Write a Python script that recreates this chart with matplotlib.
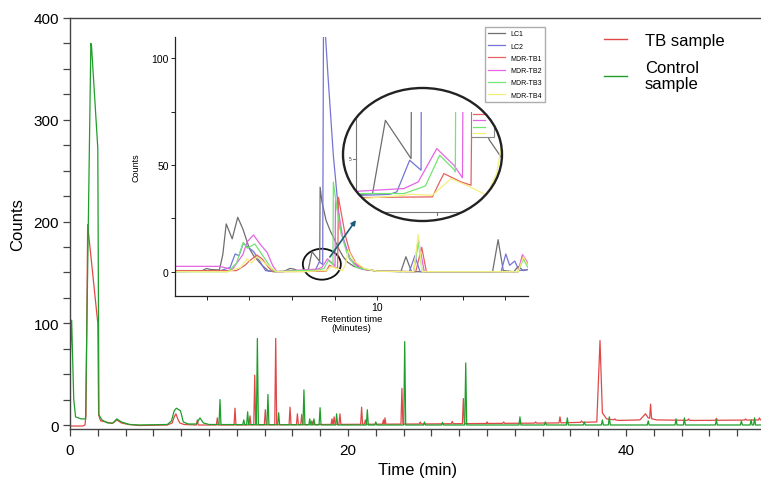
import matplotlib
matplotlib.use("Agg")
import matplotlib.pyplot as plt
import numpy as np
from matplotlib.patches import Ellipse, Rectangle
from matplotlib.lines import Line2D
from matplotlib.ticker import MultipleLocator, FixedLocator

plt.rcParams['font.family'] = ['Liberation Sans', 'DejaVu Sans']

# ---------------- main chromatogram data (time in min, counts) ----------------
tb_base_t = [0.0, 0.9, 1.08, 1.15, 1.27, 2.0, 2.06, 2.2, 2.6, 3.0, 3.2, 3.36, 3.7, 4.2, 5.0,
             7.0, 7.35, 7.5, 7.62, 7.75, 7.9, 8.2, 9.0, 12.0, 18.0, 25.0, 30.0, 35.0, 37.9,
             38.13, 38.3, 38.6, 39.5, 41.0, 41.4, 41.6, 42.2, 45.0, 50.0]
tb_base_v = [-1, -1, 0, 10, 197, 100, 10, 4, 3, 1.5, 3, 5, 2, 0.5, -0.5,
             0, 2, 8, 11, 6, 2, 0.5, 0, 0, 0.5, 1, 1.5, 2, 3,
             83, 12, 6, 4.5, 5, 11, 7, 5, 4.5, 5]
tb_peak_t = [9.16, 10.6, 11.87, 12.95, 13.29, 14.05, 14.8, 15.83, 16.36, 16.67, 17.4, 18.85,
             19.0, 19.42, 20.98, 21.25, 22.55, 22.66, 23.88, 25.2, 27.5, 28.3, 30.0, 31.2,
             33.5, 35.25, 36.8, 39.2, 41.77, 44.5, 46.5, 48.6, 49.6]
tb_peak_h = [5, 7, 16.5, 9, 49, 15, 85, 17.5, 11, 10.5, 4, 6,
             8, 11, 17.5, 5, 5, 7, 36, 3, 3.5, 26, 3, 3,
             3, 8, 4, 6, 20.5, 6, 6.5, 6, 7]

ctl_base_t = [0.0, 0.04, 0.12, 0.2, 0.27, 0.4, 0.8, 1.12, 1.5, 1.55, 2.0, 2.08, 2.3, 2.7,
              3.1, 3.36, 3.7, 4.3, 5.0, 7.0, 7.3, 7.5, 7.65, 7.95, 8.15, 8.5, 9.1, 9.35,
              9.6, 10.0, 20.0, 30.0, 40.0, 50.0]
ctl_base_v = [60, 75, 103, 60, 25, 8, 6, 6, 375, 372, 272, 10, 5, 2,
              2, 6, 3, 0.5, 0, 0.5, 4, 14, 16.5, 14, 3, 1, 1, 7,
              2, 0.5, 0, 0, 0, 0]
ctl_peak_t = [10.79, 12.5, 12.78, 13.48, 14.24, 15.01, 16.83, 17.25, 17.55, 17.99, 19.18,
              21.39, 22.0, 24.08, 25.5, 26.8, 28.47, 32.37, 34.2, 35.78, 37.0, 38.3, 38.8,
              41.6, 43.6, 44.2, 46.5, 48.3, 49.0, 49.25]
ctl_peak_h = [25, 5, 13, 85, 30, 12, 34.5, 6, 6, 17, 11,
              15, 3, 82, 3, 2.5, 61, 8, 3, 7, 3, 5, 8,
              4, 6, 7, 5, 4, 5, 7]

main_labels = ['TB sample', 'Control\nsample']

# ---------------- inset data (retention time, counts) ----------------
inset_labels = ['LC1', 'LC2', 'MDR-TB1', 'MDR-TB2', 'MDR-TB3', 'MDR-TB4']
lc1_t = [5.26, 5.9, 6.0, 6.1, 6.3, 6.38, 6.46, 6.6, 6.73, 6.85, 7.0, 7.1, 7.3, 7.45, 7.8,
         7.95, 8.05, 8.15, 8.3, 8.38, 8.47, 8.65, 8.66, 8.7, 8.8, 8.9, 9.0, 9.1, 9.2, 9.3,
         9.45, 9.7, 10.0, 10.55, 10.67, 10.8, 12.7, 12.83, 12.95, 13.2, 13.3, 13.42, 13.53]
lc1_v = [0.5, 0.5, 1.5, 1.0, 0.8, 8, 22.4, 15.4, 25.5, 20, 11, 7.5, 3, 0.3, 0,
         1.5, 1.2, 0.3, 0.5, 0.6, 9.4, 4.8, 39.6, 33, 24, 19, 15, 10.5, 7, 4.5,
         2.5, 1, 0.3, 0, 7, 0, 0, 15, 0.5, 0, 2.5, 0.5, 1]
lc2_t = [5.26, 6.3, 6.55, 6.67, 6.76, 6.86, 7.0, 7.1, 7.25, 7.38, 7.6, 8.5, 8.55, 8.64, 8.72,
         8.74, 8.85, 8.97, 9.13, 9.36, 9.6, 10.0, 10.75, 10.88, 11.0, 12.9, 13.01, 13.1,
         13.22, 13.32, 13.53]
lc2_v = [0, 0.3, 2, 8.3, 7.5, 13.3, 11, 9.5, 4.8, 0.5, 0, 0.5, 0.8, 4.6, 3.4,
         125, 90, 54.4, 20, 6, 1.5, 0.3, 0, 7.5, 0, 0, 8.3, 3,
         5, 0.5, 1]
tb1_t = [5.26, 6.7, 6.9, 7.0, 7.18, 7.3, 7.45, 7.55, 8.8, 8.85, 8.88, 9.0, 9.07, 9.09, 9.15,
         9.25, 9.36, 9.5, 9.7, 10.0, 10.9, 11.04, 11.15, 13.3, 13.4, 13.5, 13.53]
tb1_v = [0.5, 0.5, 3, 5, 7.8, 6, 2, 0, 0.2, 2, 3, 2, 1.6, 34.8, 28,
         17, 9, 4, 1, 0.3, 0, 11.4, 0, 0, 7.5, 4, 3]
tb2_t = [5.26, 6.3, 6.6, 6.85, 6.95, 7.1, 7.25, 7.42, 7.55, 7.65, 8.3, 8.6, 8.7, 8.83, 8.95,
         9.01, 9.02, 9.1, 9.2, 9.35, 9.6, 10.0, 10.85, 10.96, 11.1, 13.3, 13.4, 13.5, 13.53]
tb2_v = [2.5, 2.5, 1, 8, 14, 17.2, 13, 9, 2.8, 0, 0.9, 1.2, 2, 6, 4,
         2.5, 33.3, 27, 15, 6, 1.5, 0.3, 0, 15, 0, 0, 8, 5, 3]
tb3_t = [5.26, 6.5, 6.7, 6.86, 6.95, 7.13, 7.3, 7.5, 7.6, 8.3, 8.6, 8.75, 8.85, 8.95, 8.96,
         8.97, 9.05, 9.15, 9.3, 9.5, 10.0, 10.85, 10.96, 11.05, 13.3, 13.42, 13.5, 13.53]
tb3_v = [0, 0, 4, 13.8, 11, 13, 8, 2, 0, 0.6, 0.6, 1.5, 5.2, 3.5, 3.2,
         42, 30, 18, 8, 2, 0.2, 0, 13.8, 0, 0, 6, 3, 2]
tb4_t = [5.26, 6.5, 6.8, 6.95, 7.05, 7.18, 7.3, 7.5, 7.65, 8.3, 8.55, 8.65, 8.8, 8.93, 9.05,
         9.18, 9.25, 9.32, 9.45, 9.7, 10.0, 10.85, 10.96, 11.05, 13.3, 13.42, 13.5, 13.53]
tb4_v = [0, 0, 2, 6, 4, 7, 5, 2, 0, 0, 0.3, 0.5, 0.4, 2.4, 1.5,
         0.4, 3, 10, 5, 1.5, 0.2, 0, 17.5, 0, 0, 7, 4, 3]

RED = '#e04848'
GREEN = '#1f9e2a'
inset_colors = ['#6e6e6e', '#7474d8', '#e46262', '#e466e4', '#74e474', '#f3ef7e']
inset_series = [(lc1_t, lc1_v), (lc2_t, lc2_v), (tb1_t, tb1_v),
                (tb2_t, tb2_v), (tb3_t, tb3_v), (tb4_t, tb4_v)]


def build(base_t, base_v, peak_t, peak_h, hw=0.07):
    bt = np.asarray(base_t, float)
    bv = np.asarray(base_v, float)
    xs = list(bt)
    ys = list(bv)
    for t, h in zip(peak_t, peak_h):
        for dt in (-hw, hw):
            xs.append(t + dt)
            ys.append(float(np.interp(t + dt, bt, bv)))
        xs.append(t)
        ys.append(h)
    order = np.argsort(xs, kind='stable')
    return np.asarray(xs)[order], np.asarray(ys)[order]


fig = plt.figure(figsize=(7.61, 4.85), dpi=100)
W, H = 761.0, 485.0

# ---------------- main axes ----------------
ax = fig.add_axes([70 / W, 55 / H, 695 / W, 411 / H])
tx, ty = build(tb_base_t, tb_base_v, tb_peak_t, tb_peak_h)
cx, cy = build(ctl_base_t, ctl_base_v, ctl_peak_t, ctl_peak_h)
ax.plot(tx, ty, color=RED, lw=0.9)
ax.plot(cx, cy, color=GREEN, lw=0.9)
ax.set_xlim(0, 50)
ax.set_ylim(-3.93, 400)
ax.xaxis.set_major_locator(FixedLocator([0, 20, 40]))
ax.xaxis.set_minor_locator(MultipleLocator(2))
ax.yaxis.set_major_locator(FixedLocator([0, 100, 200, 300, 400]))
ax.yaxis.set_minor_locator(MultipleLocator(25))
for s in ax.spines.values():
    s.set_color('#444444')
    s.set_linewidth(1.0)
ax.tick_params(which='both', direction='out', length=5, width=0.9, color='#444444')
ax.tick_params(axis='both', labelsize=11, pad=3)
ax.tick_params(axis='x', pad=5)
ax.set_xlabel('Time (min)', fontsize=12, labelpad=4)
ax.set_ylabel('Counts', fontsize=12, labelpad=6)

h_main = [Line2D([], [], color=RED, lw=1.0), Line2D([], [], color=GREEN, lw=1.0)]
leg = ax.legend(h_main, main_labels, loc='upper left', bbox_to_anchor=(604 / W, 1 - 34 / H),
                bbox_transform=fig.transFigure, frameon=False, fontsize=12,
                handlelength=1.35, handletextpad=1.1, labelspacing=0.75, borderpad=0,
                borderaxespad=0)
for t in leg.get_texts():
    t.set_linespacing(1.05)

# ---------------- inset axes ----------------
ain = fig.add_axes([175 / W, 188 / H, 353 / W, 259 / H])
ain.set_zorder(1)
ain.patch.set_alpha(0)
for (t, v), c in zip(inset_series, inset_colors):
    ain.plot(t, v, color=c, lw=0.9)
ain.set_xlim(5.26, 13.53)
ain.set_ylim(-11.4, 110)
ain.spines['top'].set_visible(False)
ain.spines['right'].set_visible(False)
for s in ('left', 'bottom'):
    ain.spines[s].set_color('#222222')
    ain.spines[s].set_linewidth(0.9)
ain.xaxis.set_major_locator(FixedLocator([10]))
ain.xaxis.set_minor_locator(MultipleLocator(1))
ain.yaxis.set_major_locator(FixedLocator([0, 50, 100]))
ain.yaxis.set_minor_locator(MultipleLocator(25))
ain.tick_params(which='both', direction='out', length=3, width=0.7, color='#222222')
ain.tick_params(axis='both', labelsize=7.5, pad=1.5)
ain.set_xlabel('Retention time\n(Minutes)', fontsize=6.8, labelpad=1, linespacing=1.0)
ain.set_ylabel('Counts', fontsize=6.5, labelpad=8)

h_in = [Line2D([], [], color=c, lw=0.9) for c in inset_colors]
ain.legend(h_in, inset_labels, loc='upper left', bbox_to_anchor=(485 / W, 1 - 28 / H),
           bbox_transform=fig.transFigure, fontsize=5, frameon=True, fancybox=False,
           edgecolor='#999999', handlelength=2.4, labelspacing=0.75, borderpad=0.5,
           handletextpad=0.7, borderaxespad=0)

# small ellipse and arrow
ain.add_patch(Ellipse((8.70, 3.5), 0.89, 14.5, fill=False, edgecolor='#111111', lw=1.3,
                      clip_on=False))
ain.annotate('', xy=(9.5, 24.2), xytext=(8.89, 6.9),
             arrowprops=dict(arrowstyle='-|>', color='#1d5d78', lw=1.2, mutation_scale=7,
                             shrinkA=0, shrinkB=0))

# ---------------- magnified view in large ellipse ----------------
mbox = fig.add_axes([343 / W, (H - 222) / H, 159 / W, 133 / H])
mbox.set_zorder(2)
mbox.axis('off')
ell = Ellipse((0.5, 0.5), 1, 1, transform=mbox.transAxes, facecolor='white',
              edgecolor='none')
mbox.add_patch(ell)

mag = fig.add_axes([343 / W, (H - 222) / H, 159 / W, (222 - 113) / H])
mag.set_zorder(3)
mag.axis('off')
mag.patch.set_alpha(0)
mag.set_xlim(8.173, 9.287)
mag.set_ylim(-2.7, 10.4)
# embedded axis lines of the magnified screenshot
for xs_, ys_ in (([8.264, 8.264], [-1.6, 9.6]), ([8.264, 9.05], [-1.6, -1.6]),
                 ([8.83, 8.83], [-1.6, -1.95]), ([8.264, 8.245], [4.8, 4.8])):
    ln, = mag.plot(xs_, ys_, color='#777777', lw=0.8)
    ln.set_clip_path(ell)
tx5 = mag.text(8.235, 4.8, '5', fontsize=3.5, ha='right', va='center', color='#333333')
tx5.set_clip_path(ell)
for (t, v), c in zip(inset_series, inset_colors):
    ln, = mag.plot(t, v, color=c, lw=0.9)
    ln.set_clip_path(ell)
# fragment of the original legend box
frag = Rectangle((9.07, 7.4), 0.16, 4.0, fill=True, facecolor='white', edgecolor='#888888',
                 lw=0.8, zorder=3)
mag.add_patch(frag)
frag.set_clip_path(ell)
for c, yv in zip(inset_colors[2:], [10.1, 9.4, 8.6, 7.9]):
    ln, = mag.plot([9.085, 9.165], [yv, yv], color=c, lw=0.9, zorder=4)
    ln.set_clip_path(ell)
edge = Ellipse((0.5, 0.5), 1, 1, transform=mbox.transAxes, fill=False, edgecolor='#222222',
               lw=1.7, zorder=10)
mag.add_patch(edge)
edge.set_clip_on(False)

fig.savefig('out.png', dpi=100)
